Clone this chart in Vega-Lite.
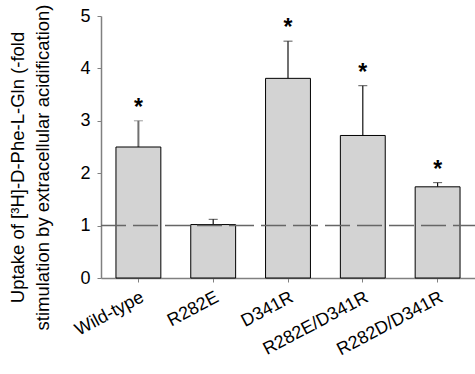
{
  "$schema": "https://vega.github.io/schema/vega-lite/v6.json",
  "autosize": "none",
  "width": 374,
  "height": 262,
  "padding": {"left": 101, "top": 16, "right": 0, "bottom": 96},
  "background": "white",
  "config": {"view": {"stroke": null}, "font": "Liberation Sans"},
  "data": {"values": [
    {"group": "Wild-type", "mean": 2.50, "upper": 3.00, "sig": "*"},
    {"group": "R282E", "mean": 1.02, "upper": 1.12, "sig": ""},
    {"group": "D341R", "mean": 3.81, "upper": 4.52, "sig": "*"},
    {"group": "R282E/D341R", "mean": 2.72, "upper": 3.67, "sig": "*"},
    {"group": "R282D/D341R", "mean": 1.74, "upper": 1.82, "sig": "*"}
  ]},
  "encoding": {
    "x": {"field": "group", "type": "nominal", "sort": null,
      "scale": {"paddingInner": 0.4, "paddingOuter": 0.2},
      "axis": {"title": null, "labelAngle": -28, "labelAlign": "right", "labelBaseline": "top", "labelFontSize": 18, "labelColor": "black", "labelPadding": 6,
        "domainColor": "#808080", "tickColor": "#808080", "tickSize": 4, "domainWidth": 1.5}}
  },
  "layer": [
    {"mark": {"type": "rule"},
     "encoding": {"y": {"field": "mean", "type": "quantitative"}, "y2": {"field": "upper"},
       "color": {"condition": {"test": "datum.group === 'Wild-type'", "value": "#707070"}, "value": "#111"},
       "strokeWidth": {"condition": {"test": "datum.group === 'Wild-type'", "value": 2}, "value": 1.2}}},
    {"mark": {"type": "tick", "size": 9, "orient": "horizontal"},
     "encoding": {"y": {"field": "upper", "type": "quantitative"},
       "color": {"condition": {"test": "datum.group === 'Wild-type'", "value": "#707070"}, "value": "#111"},
       "strokeWidth": {"condition": {"test": "datum.group === 'Wild-type'", "value": 2}, "value": 1.2}}},
    {"mark": {"type": "bar", "fill": "#d3d3d3", "stroke": "black", "strokeWidth": 1},
     "encoding": {"y": {"field": "mean", "type": "quantitative",
        "scale": {"domain": [0, 5], "nice": false},
        "axis": {"values": [0,1,2,3,4,5], "grid": false, "labelFontSize": 18, "labelColor": "black", "tickSize": 4, "domainColor": "#808080", "tickColor": "#808080", "domainWidth": 1.5, "labelPadding": 7,
          "title": ["Uptake of [³H]-D-Phe-L-Gln (-fold", "stimulation by extracellular acidification)"],
          "titleFontSize": 18.5, "titleFontWeight": "normal", "titleColor": "black", "titlePadding": 27.5, "titleY": 151, "titleLineHeight": 25}}}},
    {"mark": {"type": "text", "fontSize": 23, "fontWeight": "bold", "baseline": "alphabetic", "dy": -6},
     "encoding": {"y": {"field": "upper", "type": "quantitative"}, "text": {"field": "sig"}}},
    {"data": {"values": [{"y": 1}]},
     "mark": {"type": "rule", "color": "#666", "strokeWidth": 1.5, "strokeDash": [25, 7]},
     "encoding": {"y": {"field": "y", "type": "quantitative"}, "x": {"value": 0}, "x2": {"value": 374}}}
  ]
}
